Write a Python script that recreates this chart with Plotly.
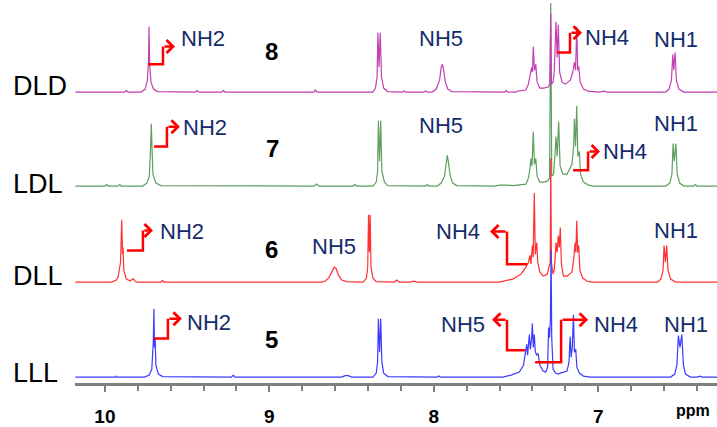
import plotly.graph_objects as go

# ---------------- data (ppm, intensity above baseline) ----------------
ppm_lll = [10.18, 9.94, 9.935, 9.93, 9.76, 9.73, 9.715, 9.706, 9.702, 9.699, 9.695, 9.690, 9.675, 9.65,
           9.23, 9.22, 9.21, 8.56, 8.54, 8.52, 8.50,
           8.37, 8.35, 8.342, 8.337, 8.330, 8.323, 8.316, 8.305, 8.28, 7.98, 7.97, 7.96,
           7.58, 7.53, 7.48, 7.455, 7.44, 7.435, 7.43, 7.425, 7.419, 7.413, 7.405, 7.401, 7.395, 7.389, 7.383,
           7.375, 7.366, 7.355, 7.335, 7.32, 7.308, 7.302, 7.296, 7.291, 7.287, 7.283, 7.275, 7.26, 7.245,
           7.23, 7.19, 7.178, 7.171, 7.165, 7.158, 7.151, 7.145, 7.137, 7.130, 7.115, 7.09, 7.05,
           6.56, 6.535, 6.522, 6.513, 6.503, 6.492, 6.482, 6.47, 6.44, 6.40, 6.38, 6.37, 6.278]
int_lll = [0, 0, 1, 0, 0, 2, 8, 35, 69, 30, 40, 12, 3, 0.5,
           0, 2, 0, 0, 1.5, 1.5, 0,
           0, 4, 15, 59, 25, 59, 15, 4, 0.5, 0, 1, 0,
           0, 2, 5, 12, 25, 33, 22, 30, 43, 28, 40, 54, 30, 43, 26,
           22, 24, 12, 6, 5, 10, 50, 40, 60, 129, 40, 8, 4, 3,
           4, 6, 15, 41, 20, 30, 63, 25, 28, 10, 4, 1, 0,
           0, 3, 12, 42, 30, 43, 12, 3, 0, 0, 1, 0, 0]

ppm_dll = [10.18, 9.96, 9.93, 9.92, 9.905, 9.898, 9.893, 9.890, 9.885, 9.87, 9.845, 9.835, 9.825, 9.815, 9.80,
           9.66, 9.65, 9.64,
           8.68, 8.66, 8.64, 8.62, 8.605, 8.595, 8.58, 8.56, 8.53, 8.45,
           8.43, 8.41, 8.402, 8.397, 8.392, 8.387, 8.382, 8.37, 8.35,
           8.24, 8.226, 8.21, 8.15, 8.12, 8.10,
           7.60, 7.52, 7.47, 7.44, 7.425, 7.415, 7.41, 7.405, 7.401, 7.396, 7.389, 7.383, 7.374, 7.368,
           7.355, 7.335, 7.31, 7.30, 7.292, 7.289, 7.285, 7.275, 7.268,
           7.262, 7.257, 7.250, 7.243, 7.237, 7.231, 7.224, 7.212, 7.19, 7.16, 7.148, 7.141, 7.136,
           7.131, 7.125, 7.119, 7.112, 7.095, 7.07, 7.04,
           6.64, 6.62, 6.606, 6.600, 6.592, 6.584, 6.576, 6.56, 6.53, 6.278]
int_dll = [0, 0, 2, 5, 20, 63, 28, 35, 12, 3, 1, 3, 3, 0.5, 0,
           0, 1.5, 0,
           0, 1, 4, 10, 15, 14, 7, 2, 0.5, 0,
           0, 4, 15, 68, 30, 68, 15, 4, 0.5,
           0, 2, 0, 0, 1, 0,
           0, 3, 8, 15, 20, 27, 18, 30, 37, 25, 90, 28, 40, 20,
           10, 6, 8, 15, 20, 125, 20, 8, 12,
           25, 40, 30, 47, 35, 55, 18, 6, 6, 10, 25, 40, 30,
           62, 30, 37, 12, 4, 1, 0,
           0, 3, 12, 37, 20, 37, 12, 3, 0, 0]

ppm_ldl = [10.18, 10.0, 9.99, 9.98, 9.92, 9.91, 9.90,
           9.77, 9.745, 9.73, 9.722, 9.718, 9.713, 9.708, 9.69, 9.66,
           8.73, 8.712, 8.70, 8.49, 8.48, 8.47,
           8.37, 8.35, 8.342, 8.337, 8.330, 8.323, 8.316, 8.30, 8.28,
           8.05, 8.04, 8.03,
           7.98, 7.955, 7.935, 7.925, 7.918, 7.912, 7.90, 7.885, 7.86,
           7.63, 7.60, 7.56, 7.52,
           7.44, 7.425, 7.415, 7.409, 7.403, 7.395, 7.388, 7.380, 7.372, 7.355, 7.33, 7.31, 7.296,
           7.289, 7.283, 7.272, 7.264, 7.257, 7.250, 7.241, 7.232, 7.215, 7.19, 7.16, 7.150, 7.145,
           7.138, 7.131, 7.124, 7.115, 7.108, 7.09, 7.06, 7.03,
           6.59, 6.565, 6.552, 6.545, 6.538, 6.528, 6.520, 6.505, 6.48, 6.42, 6.41, 6.40, 6.278]
int_ldl = [0, 0, 1.5, 0, 0, 1.5, 0,
           0, 3, 10, 40, 63, 35, 12, 3, 0.5,
           0, 2, 0, 0, 1.5, 0,
           0, 4, 15, 66, 25, 66, 15, 4, 0.5,
           0, 1.5, 0,
           0, 3, 10, 22, 31, 25, 10, 3, 0.5,
           0, 1, 1, 0.5,
           2, 8, 18, 28, 20, 55, 22, 28, 10, 4, 4, 5, 8,
           185, 10, 12, 30, 50, 30, 65, 20, 12, 12, 22, 40, 68,
           40, 81, 30, 35, 12, 4, 1, 0,
           0, 3, 12, 43, 25, 43, 12, 3, 0, 0, 1.5, 0, 0]

ppm_dld = [10.18, 9.88, 9.87, 9.86,
           9.78, 9.755, 9.742, 9.735, 9.732, 9.728, 9.72, 9.705, 9.68,
           9.45, 9.44, 9.43, 9.29, 9.28, 9.27, 8.73, 8.72, 8.71,
           8.37, 8.355, 8.345, 8.340, 8.333, 8.326, 8.318, 8.305, 8.28,
           8.19, 8.18, 8.17, 8.06, 8.05, 8.04,
           8.01, 7.985, 7.965, 7.955, 7.948, 7.942, 7.93, 7.915, 7.89,
           7.57, 7.56, 7.55, 7.50, 7.49,
           7.44, 7.425, 7.412, 7.405, 7.400, 7.395, 7.388, 7.380, 7.372, 7.355, 7.33, 7.305, 7.295,
           7.289, 7.285, 7.275, 7.268, 7.263, 7.257, 7.250, 7.243, 7.235, 7.22, 7.20, 7.17, 7.155,
           7.145, 7.138, 7.131, 7.125, 7.119, 7.11, 7.09, 7.06, 7.00, 6.96, 6.95,
           6.59, 6.57, 6.555, 6.547, 6.541, 6.533, 6.525, 6.51, 6.48, 6.278]
int_dld = [0, 0, 1.5, 0,
           0, 3, 12, 30, 66, 28, 10, 3, 0.5,
           0, 1.5, 0, 0, 1.5, 0, 0, 2, 0,
           0, 4, 15, 60, 25, 60, 15, 4, 0.5,
           0, 1, 0, 0, 1, 0,
           0, 3, 12, 25, 28, 24, 10, 3, 0.5,
           0, 1.5, 0, 0, 1,
           2, 8, 20, 25, 20, 46, 22, 28, 10, 4, 4, 5, 8,
           79, 8, 10, 20, 40, 71, 35, 68, 20, 10, 8, 12, 20,
           30, 22, 66, 22, 26, 10, 3, 1, 0, 1, 0,
           0, 3, 12, 38, 22, 40, 12, 3, 0, 0]

row_names = ["LLL", "DLL", "LDL", "DLD"]
row_numbers = ["5", "6", "7", "8"]
row_offsets = [6, 102, 199, 294]
row_colors = ["#3b3bff", "#ff3030", "#5f9f5f", "#c23fb3"]
spectra = {"LLL": (ppm_lll, int_lll), "DLL": (ppm_dll, int_dll),
           "LDL": (ppm_ldl, int_ldl), "DLD": (ppm_dld, int_dld)}

# NH labels: (text, ppm, y)
nh_labels = [("NH2", 9.404, 348), ("NH5", 7.956, 348), ("NH4", 6.946, 349), ("NH1", 6.527, 347),
             ("NH2", 9.392, 258), ("NH5", 7.956, 260), ("NH4", 6.837, 234), ("NH1", 6.527, 262),
             ("NH2", 9.532, 153), ("NH5", 8.607, 138), ("NH4", 7.853, 153), ("NH1", 6.527, 154),
             ("NH2", 9.367, 61), ("NH5", 7.822, 59), ("NH4", 6.892, 59), ("NH1", 6.467, 59)]
number_ppm = [8.990, 8.990, 8.984, 8.990]
number_y = [44, 135, 237, 335]
label_y = [10, 108, 201, 300]

# elbow arrows: start ppm, corner ppm, tip ppm, low y, high y
arrow_start = [9.738, 7.251, 9.702, 7.153, 9.866, 7.433, 9.702, 7.445, 7.384]
arrow_corner = [9.647, 7.172, 9.623, 7.062, 9.769, 7.555, 9.617, 7.555, 7.226]
arrow_tip = [9.574, 7.099, 9.544, 6.989, 9.708, 7.658, 9.532, 7.646, 7.062]
arrow_low = [322, 334, 239, 215, 134, 120, 45, 33, 21]
arrow_high = [340, 354, 259, 234, 154, 153, 65, 64, 64]

x_ticks = [10, 9, 8, 7]
x_range = [10.182, 6.278]

# ---------------- figure ----------------
fig = go.Figure()
draw_order = ["LDL", "DLD", "DLL", "LLL"]
for name in draw_order:
    i = row_names.index(name)
    px, py = spectra[name]
    fig.add_trace(go.Scatter(x=px, y=[row_offsets[i] + v for v in py], mode="lines",
                             line=dict(color=row_colors[i], width=1.2), hoverinfo="skip",
                             showlegend=False))

for s, c, t, lo, hi in zip(arrow_start, arrow_corner, arrow_tip, arrow_low, arrow_high):
    fig.add_trace(go.Scatter(x=[s, c, c], y=[lo, lo, hi], mode="lines",
                             line=dict(color="#ff0000", width=2.5), hoverinfo="skip",
                             showlegend=False))
    fig.add_annotation(x=t, y=hi, ax=c, ay=hi, xref="x", yref="y", axref="x", ayref="y",
                       text="", showarrow=True, arrowhead=4, arrowsize=1, arrowwidth=2.5,
                       arrowcolor="#ff0000", standoff=0, startstandoff=0)

for txt, xp, yp in nh_labels:
    fig.add_annotation(x=xp, y=yp, xref="x", yref="y", text=txt, showarrow=False,
                       xanchor="center", yanchor="middle",
                       font=dict(family="Liberation Sans, Arial", size=22, color="#142c6b"))

for i in range(4):
    fig.add_annotation(x=number_ppm[i], y=number_y[i], xref="x", yref="y",
                       text="<b>%s</b>" % row_numbers[i], showarrow=False,
                       xanchor="center", yanchor="middle",
                       font=dict(family="Liberation Sans, Arial", size=24, color="#000000"))
    fig.add_annotation(x=-0.1, y=label_y[i], xref="paper", yref="y", xanchor="left",
                       yanchor="middle", text=row_names[i], showarrow=False,
                       font=dict(family="Liberation Sans, Arial", size=27, color="#000000"))

fig.add_annotation(x=0.9626, y=-0.072, xref="paper", yref="paper", text="<b>ppm</b>",
                   xanchor="center", yanchor="middle", showarrow=False,
                   font=dict(family="Liberation Sans, Arial", size=16, color="#000000"))

fig.update_layout(
    width=717, height=427, margin=dict(l=75, r=0, t=0, b=40),
    paper_bgcolor="white", plot_bgcolor="white",
    xaxis=dict(range=x_range, tickvals=x_ticks, ticktext=["<b>%d</b>" % v for v in x_ticks],
               showgrid=False, zeroline=False, showline=True, linecolor="#7f7f7f", linewidth=3,
               ticks="outside", ticklen=6, tickwidth=1.5, tickcolor="#7f7f7f",
               ticklabelstandoff=8,
               tickfont=dict(family="Liberation Sans, Arial", size=19, color="#000000"),
               minor=dict(dtick=0.2, ticks="outside", ticklen=5, tickwidth=1.5,
                          tickcolor="#7f7f7f", showgrid=False)),
    yaxis=dict(range=[0, 387], visible=False, showgrid=False, zeroline=False),
)

fig.write_html("out.html", config={"displayModeBar": False},
               post_script="document.body.style.margin='0px';")
